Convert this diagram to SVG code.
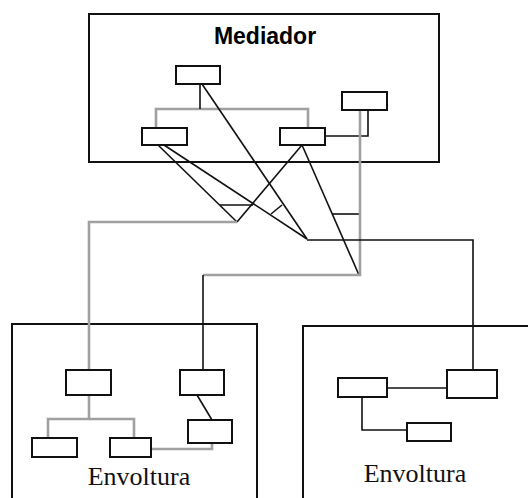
<svg xmlns="http://www.w3.org/2000/svg" width="528" height="498" viewBox="0 0 528 498">
<style>
.box{fill:none;stroke:#111;stroke-width:2}
.node{fill:#fff;stroke:#111;stroke-width:2}
.k{fill:none;stroke:#111;stroke-width:1.6}
.g{fill:none;stroke:#a0a0a0;stroke-width:2.6}
.title{font-family:"Liberation Sans",Arial,sans-serif;font-weight:bold;font-size:23px;fill:#000}
.lbl{font-family:"Liberation Serif","Times New Roman",serif;font-size:26px;fill:#111}
</style>
<rect width="528" height="498" fill="#fff"/>
<g id="mediador">
<rect class="box" x="89" y="14" width="350" height="148"/>
<text class="title" x="265" y="44" text-anchor="middle">Mediador</text>
</g>
<g id="envoltura-left">
<rect class="box" x="12" y="324" width="245" height="190"/>
<text class="lbl" x="139" y="485" text-anchor="middle">Envoltura</text>
</g>
<g id="envoltura-right">
<rect class="box" x="303" y="326" width="240" height="190"/>
<text class="lbl" x="415" y="482" text-anchor="middle">Envoltura</text>
</g>
<g id="connectors">
<!-- Mediador internal tree -->
<polyline class="g" points="156,128 156,109 308,109 308,128"/>
<line class="k" x1="200" y1="84" x2="200" y2="109"/>
<polyline class="k" points="325,136 368,136 368,110"/>
<!-- diagonals -->
<line class="k" x1="202" y1="84" x2="307" y2="239"/>
<line class="k" x1="158" y1="145" x2="237" y2="222"/>
<line class="k" x1="164" y1="145" x2="307" y2="239"/>
<line class="k" x1="302" y1="145" x2="237" y2="222"/>
<line class="k" x1="302" y1="145" x2="359" y2="275"/>
<line class="k" x1="220" y1="205" x2="253" y2="205"/>
<line class="k" x1="271" y1="214" x2="282" y2="205"/>
<line class="k" x1="332" y1="214" x2="359" y2="214"/>
<!-- grey routes -->
<polyline class="g" points="237,222 89,222 89,370"/>
<polyline class="g" points="360,110 360,275 203,275"/>
<line class="k" x1="203" y1="275" x2="203" y2="370"/>
<polyline class="k" points="307,240 473,240 473,370"/>
<!-- left Envoltura internal -->
<polyline class="g" points="89,395 89,419"/>
<polyline class="g" points="48,438 48,419 134,419 134,438"/>
<line class="k" x1="197" y1="395" x2="212" y2="420"/>
<polyline class="g" points="151,449 212,449 212,443"/>
<!-- right Envoltura internal -->
<line class="k" x1="387" y1="388" x2="447" y2="388"/>
<polyline class="k" points="362,397 362,430 407,430"/>
</g>
<g id="m-top"><rect class="node" x="176" y="66" width="44" height="18"/></g>
<g id="m-right"><rect class="node" x="342" y="92" width="45" height="18"/></g>
<g id="m-left"><rect class="node" x="142" y="128" width="45" height="17"/></g>
<g id="m-mid"><rect class="node" x="280" y="128" width="45" height="17"/></g>
<g id="l-a"><rect class="node" x="66" y="370" width="45" height="25"/></g>
<g id="l-b"><rect class="node" x="180" y="370" width="44" height="25"/></g>
<g id="l-c"><rect class="node" x="32" y="438" width="45" height="19"/></g>
<g id="l-d"><rect class="node" x="110" y="438" width="41" height="19"/></g>
<g id="l-e"><rect class="node" x="188" y="420" width="44" height="23"/></g>
<g id="r-f"><rect class="node" x="447" y="370" width="50" height="28"/></g>
<g id="r-g"><rect class="node" x="338" y="378" width="49" height="19"/></g>
<g id="r-h"><rect class="node" x="407" y="423" width="44" height="18"/></g>
</svg>
